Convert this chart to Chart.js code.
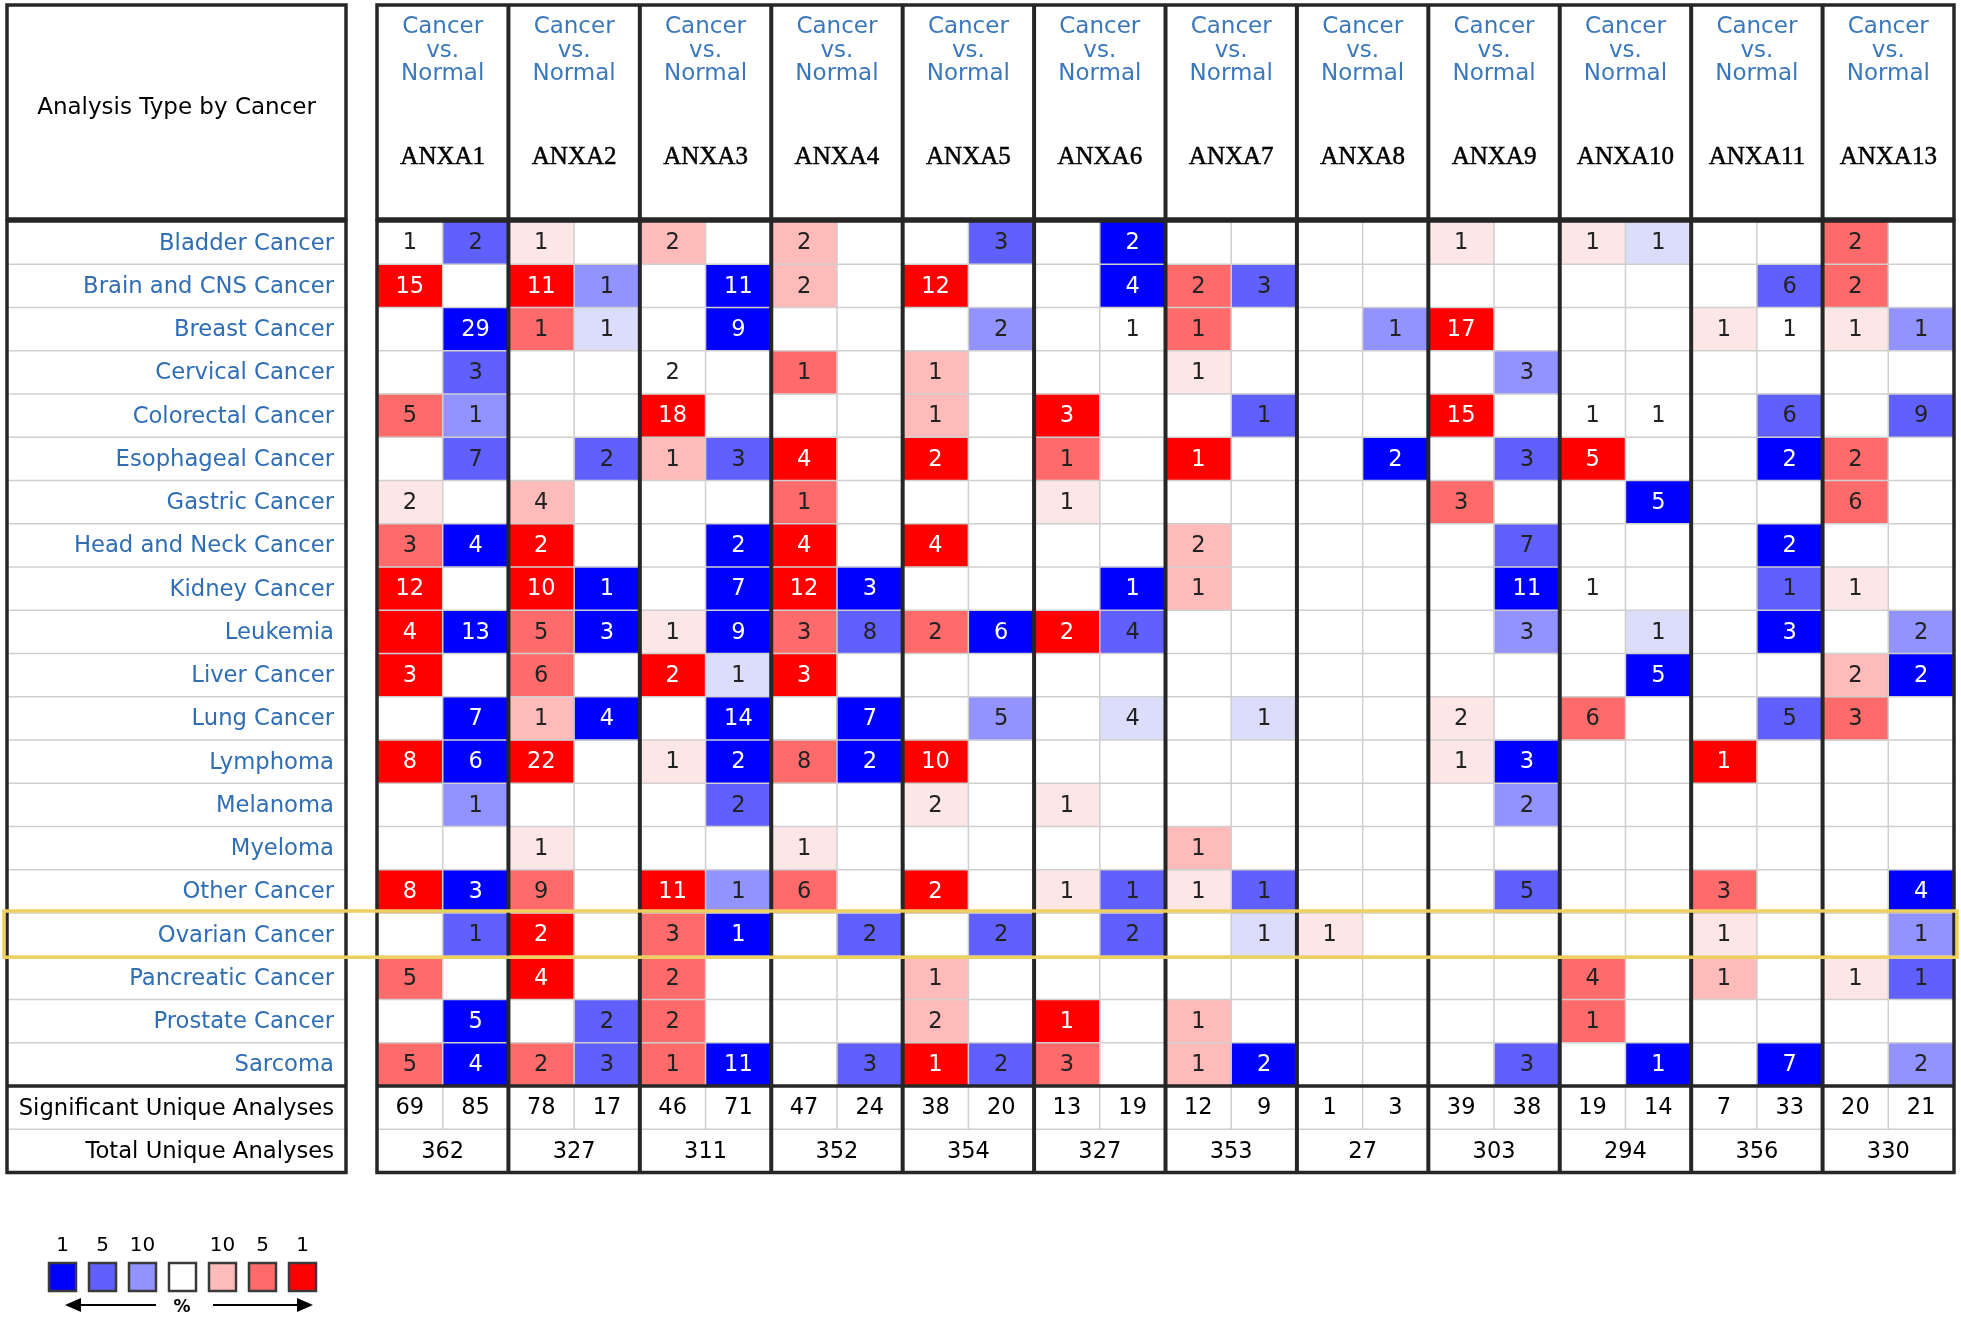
<!DOCTYPE html>
<html><head><meta charset="utf-8">
<script src="https://cdn.jsdelivr.net/npm/chart.js@4/dist/chart.umd.min.js"></script>
<style>html,body{margin:0;padding:0;background:#fff;}canvas{display:block;}</style>
</head><body>
<canvas id="c" width="1961" height="1319"></canvas>
<script>
const cancers = ['Bladder Cancer','Brain and CNS Cancer','Breast Cancer','Cervical Cancer','Colorectal Cancer','Esophageal Cancer','Gastric Cancer','Head and Neck Cancer','Kidney Cancer','Leukemia','Liver Cancer','Lung Cancer','Lymphoma','Melanoma','Myeloma','Other Cancer','Ovarian Cancer','Pancreatic Cancer','Prostate Cancer','Sarcoma'];
const genes = ['ANXA1','ANXA2','ANXA3','ANXA4','ANXA5','ANXA6','ANXA7','ANXA8','ANXA9','ANXA10','ANXA11','ANXA13'];
const analysisType = ['Cancer','vs.','Normal'];
const _ = null;
// counts of analyses (over-expression = up, under-expression = down) and colour level (0 white .. 4 top 1%)
const ANXA1_up      = [1,15,_,_,5,_,2,3,12,4,3,_,8,_,_,8,_,5,_,5];
const ANXA1_upLvl   = [0,4,_,_,3,_,1,3,4,4,4,_,4,_,_,4,_,3,_,3];
const ANXA1_down    = [2,_,29,3,1,7,_,4,_,13,_,7,6,1,_,3,1,_,5,4];
const ANXA1_downLvl = [3,_,4,3,2,3,_,4,_,4,_,4,4,2,_,4,3,_,4,4];
const ANXA2_up      = [1,11,1,_,_,_,4,2,10,5,6,1,22,_,1,9,2,4,_,2];
const ANXA2_upLvl   = [1,4,3,_,_,_,2,4,4,3,3,2,4,_,1,3,4,4,_,3];
const ANXA2_down    = [_,1,1,_,_,2,_,_,1,3,_,4,_,_,_,_,_,_,2,3];
const ANXA2_downLvl = [_,2,1,_,_,3,_,_,4,4,_,4,_,_,_,_,_,_,3,3];
const ANXA3_up      = [2,_,_,2,18,1,_,_,_,1,2,_,1,_,_,11,3,2,2,1];
const ANXA3_upLvl   = [2,_,_,0,4,2,_,_,_,1,4,_,1,_,_,4,3,3,3,3];
const ANXA3_down    = [_,11,9,_,_,3,_,2,7,9,1,14,2,2,_,1,1,_,_,11];
const ANXA3_downLvl = [_,4,4,_,_,3,_,4,4,4,1,4,4,3,_,2,4,_,_,4];
const ANXA4_up      = [2,2,_,1,_,4,1,4,12,3,3,_,8,_,1,6,_,_,_,_];
const ANXA4_upLvl   = [2,2,_,3,_,4,3,4,4,3,4,_,3,_,1,3,_,_,_,_];
const ANXA4_down    = [_,_,_,_,_,_,_,_,3,8,_,7,2,_,_,_,2,_,_,3];
const ANXA4_downLvl = [_,_,_,_,_,_,_,_,4,3,_,4,4,_,_,_,3,_,_,3];
const ANXA5_up      = [_,12,_,1,1,2,_,4,_,2,_,_,10,2,_,2,_,1,2,1];
const ANXA5_upLvl   = [_,4,_,2,2,4,_,4,_,3,_,_,4,1,_,4,_,2,2,4];
const ANXA5_down    = [3,_,2,_,_,_,_,_,_,6,_,5,_,_,_,_,2,_,_,2];
const ANXA5_downLvl = [3,_,2,_,_,_,_,_,_,4,_,2,_,_,_,_,3,_,_,3];
const ANXA6_up      = [_,_,_,_,3,1,1,_,_,2,_,_,_,1,_,1,_,_,1,3];
const ANXA6_upLvl   = [_,_,_,_,4,3,1,_,_,4,_,_,_,1,_,1,_,_,4,3];
const ANXA6_down    = [2,4,1,_,_,_,_,_,1,4,_,4,_,_,_,1,2,_,_,_];
const ANXA6_downLvl = [4,4,0,_,_,_,_,_,4,3,_,1,_,_,_,3,3,_,_,_];
const ANXA7_up      = [_,2,1,1,_,1,_,2,1,_,_,_,_,_,1,1,_,_,1,1];
const ANXA7_upLvl   = [_,3,3,1,_,4,_,2,2,_,_,_,_,_,2,1,_,_,2,2];
const ANXA7_down    = [_,3,_,_,1,_,_,_,_,_,_,1,_,_,_,1,1,_,_,2];
const ANXA7_downLvl = [_,3,_,_,3,_,_,_,_,_,_,1,_,_,_,3,1,_,_,4];
const ANXA8_up      = [_,_,_,_,_,_,_,_,_,_,_,_,_,_,_,_,1,_,_,_];
const ANXA8_upLvl   = [_,_,_,_,_,_,_,_,_,_,_,_,_,_,_,_,1,_,_,_];
const ANXA8_down    = [_,_,1,_,_,2,_,_,_,_,_,_,_,_,_,_,_,_,_,_];
const ANXA8_downLvl = [_,_,2,_,_,4,_,_,_,_,_,_,_,_,_,_,_,_,_,_];
const ANXA9_up      = [1,_,17,_,15,_,3,_,_,_,_,2,1,_,_,_,_,_,_,_];
const ANXA9_upLvl   = [1,_,4,_,4,_,3,_,_,_,_,1,1,_,_,_,_,_,_,_];
const ANXA9_down    = [_,_,_,3,_,3,_,7,11,3,_,_,3,2,_,5,_,_,_,3];
const ANXA9_downLvl = [_,_,_,2,_,3,_,3,4,2,_,_,4,2,_,3,_,_,_,3];
const ANXA10_up      = [1,_,_,_,1,5,_,_,1,_,_,6,_,_,_,_,_,4,1,_];
const ANXA10_upLvl   = [1,_,_,_,0,4,_,_,0,_,_,3,_,_,_,_,_,3,3,_];
const ANXA10_down    = [1,_,_,_,1,_,5,_,_,1,5,_,_,_,_,_,_,_,_,1];
const ANXA10_downLvl = [1,_,_,_,0,_,4,_,_,1,4,_,_,_,_,_,_,_,_,4];
const ANXA11_up      = [_,_,1,_,_,_,_,_,_,_,_,_,1,_,_,3,1,1,_,_];
const ANXA11_upLvl   = [_,_,1,_,_,_,_,_,_,_,_,_,4,_,_,3,1,2,_,_];
const ANXA11_down    = [_,6,1,_,6,2,_,2,1,3,_,5,_,_,_,_,_,_,_,7];
const ANXA11_downLvl = [_,3,0,_,3,4,_,4,3,4,_,3,_,_,_,_,_,_,_,4];
const ANXA13_up      = [2,2,1,_,_,2,6,_,1,_,2,3,_,_,_,_,_,1,_,_];
const ANXA13_upLvl   = [3,3,1,_,_,3,3,_,1,_,2,3,_,_,_,_,_,1,_,_];
const ANXA13_down    = [_,_,1,_,9,_,_,_,_,2,2,_,_,_,_,4,1,1,_,2];
const ANXA13_downLvl = [_,_,2,_,3,_,_,_,_,2,4,_,_,_,_,4,2,3,_,2];
const sigUp   = [69,78,46,47,38,13,12,1,39,19,7,20];
const sigDown = [85,17,71,24,20,19,9,3,38,14,33,21];
const totalAnalyses = [362,327,311,352,354,327,353,27,303,294,356,330];
const legendLabels = ['1','5','10','','10','5','1'];
const highlightRow = 'Ovarian Cancer';

const RED  = ['#ffffff','#fde6e6','#ffbaba','#ff6b6b','#ff0000'];
const BLUE = ['#ffffff','#dcdcfb','#9393ff','#6060ff','#0000ff'];
const legendColors = [BLUE[4],BLUE[3],BLUE[2],'#ffffff',RED[2],RED[3],RED[4]];

const upCounts  = [ANXA1_up,ANXA2_up,ANXA3_up,ANXA4_up,ANXA5_up,ANXA6_up,ANXA7_up,ANXA8_up,ANXA9_up,ANXA10_up,ANXA11_up,ANXA13_up];
const upLvls    = [ANXA1_upLvl,ANXA2_upLvl,ANXA3_upLvl,ANXA4_upLvl,ANXA5_upLvl,ANXA6_upLvl,ANXA7_upLvl,ANXA8_upLvl,ANXA9_upLvl,ANXA10_upLvl,ANXA11_upLvl,ANXA13_upLvl];
const downCounts= [ANXA1_down,ANXA2_down,ANXA3_down,ANXA4_down,ANXA5_down,ANXA6_down,ANXA7_down,ANXA8_down,ANXA9_down,ANXA10_down,ANXA11_down,ANXA13_down];
const downLvls  = [ANXA1_downLvl,ANXA2_downLvl,ANXA3_downLvl,ANXA4_downLvl,ANXA5_downLvl,ANXA6_downLvl,ANXA7_downLvl,ANXA8_downLvl,ANXA9_downLvl,ANXA10_downLvl,ANXA11_downLvl,ANXA13_downLvl];

const columns = [];
genes.forEach((g,i)=>{
  columns.push({key:g+' up', counts:upCounts[i], lvls:upLvls[i], pal:RED});
  columns.push({key:g+' down', counts:downCounts[i], lvls:downLvls[i], pal:BLUE});
});
const sigCols = [];
genes.forEach((g,i)=>{ sigCols.push(sigUp[i]); sigCols.push(sigDown[i]); });

const datasets = cancers.map((name, r) => ({
  label: name,
  data: columns.map(col => col.counts[r] == null ? null : [r, r+1]),
  counts: columns.map(col => col.counts[r]),
  lvls: columns.map(col => col.lvls[r]),
  backgroundColor: columns.map(col => col.counts[r] == null ? 'rgba(0,0,0,0)' : col.pal[col.lvls[r]]),
  borderWidth: 0,
  grouped: false,
  barPercentage: 1,
  categoryPercentage: 1
}));

const SANS = '"DejaVu Sans", Verdana, sans-serif';
const SERIF = '"Liberation Serif", "Times New Roman", serif';

const tablePlugin = {
  id: 'oncomineTable',
  afterDatasetsDraw(chart) {
    const {ctx, chartArea: ca, scales: {x, y}} = chart;
    const nR = cancers.length, nC = columns.length;
    const colW = x.getPixelForValue(1) - x.getPixelForValue(0);
    const colEdge = c => x.getPixelForValue(c) - colW/2;
    const rowEdge = r => y.getPixelForValue(r);
    const rowMid = r => (rowEdge(r) + rowEdge(r+1))/2;
    const headTop = 5, headBot = ca.top - 2;
    const footBot = rowEdge(nR + 2);
    const Lx0 = 7, Lx1 = ca.left - 31;
    const labelX = Lx1 - 12;
    ctx.save();
    // light grid lines
    ctx.strokeStyle = '#cfcfcf'; ctx.lineWidth = 1.5;
    ctx.beginPath();
    for (let r = 1; r <= nR + 1; r++) {
      if (r === nR) continue;
      const yy = rowEdge(r);
      ctx.moveTo(Lx0, yy); ctx.lineTo(Lx1, yy);
      ctx.moveTo(ca.left, yy); ctx.lineTo(ca.right, yy);
    }
    for (let c = 1; c < nC; c += 2) {
      const xx = colEdge(c);
      ctx.moveTo(xx, ca.top); ctx.lineTo(xx, rowEdge(nR + 1));
    }
    ctx.stroke();
    // cell numbers
    ctx.textAlign = 'center'; ctx.textBaseline = 'middle';
    ctx.font = '22.5px ' + SANS;
    chart.data.datasets.forEach((ds, di) => {
      const meta = chart.getDatasetMeta(di);
      meta.data.forEach((el, j) => {
        if (ds.counts[j] == null) return;
        ctx.fillStyle = ds.lvls[j] === 4 ? '#ffffff' : '#222222';
        ctx.fillText(String(ds.counts[j]), el.x, (el.y + el.base)/2 + 1);
      });
    });
    // thick borders
    ctx.strokeStyle = '#262626'; ctx.lineWidth = 3.5;
    ctx.strokeRect(Lx0, headTop, Lx1 - Lx0, headBot - headTop);
    ctx.strokeRect(Lx0, ca.top, Lx1 - Lx0, footBot - ca.top);
    ctx.strokeRect(ca.left, headTop, ca.right - ca.left, headBot - headTop);
    ctx.strokeRect(ca.left, ca.top, ca.right - ca.left, footBot - ca.top);
    ctx.beginPath();
    ctx.moveTo(Lx0, rowEdge(nR)); ctx.lineTo(Lx1, rowEdge(nR));
    ctx.moveTo(ca.left, rowEdge(nR)); ctx.lineTo(ca.right, rowEdge(nR));
    ctx.stroke();
    ctx.lineWidth = 4;
    ctx.beginPath();
    for (let g = 1; g < genes.length; g++) {
      const xx = colEdge(2*g);
      ctx.moveTo(xx, headTop); ctx.lineTo(xx, headBot);
      ctx.moveTo(xx, ca.top); ctx.lineTo(xx, footBot);
    }
    ctx.stroke();
    // header
    ctx.fillStyle = '#000'; ctx.font = '23px ' + SANS;
    ctx.fillText('Analysis Type by Cancer', (Lx0 + Lx1)/2, 108);
    genes.forEach((g, i) => {
      const cx = (x.getPixelForValue(2*i) + x.getPixelForValue(2*i+1))/2;
      ctx.fillStyle = '#3b78bb'; ctx.font = '23px ' + SANS;
      ctx.fillText(analysisType[0], cx, 27);
      ctx.fillText(analysisType[1], cx, 51);
      ctx.fillText(analysisType[2], cx, 74);
      ctx.fillStyle = '#000'; ctx.strokeStyle = '#000'; ctx.lineWidth = 0.5;
      ctx.font = '25px ' + SERIF;
      ctx.fillText(g, cx, 157);
      ctx.strokeText(g, cx, 157);
    });
    // row labels
    ctx.textAlign = 'right';
    ctx.font = '22.7px ' + SANS; ctx.fillStyle = '#2f6db4';
    cancers.forEach((name, r) => ctx.fillText(name, labelX, rowMid(r) + 1));
    ctx.fillStyle = '#000';
    ctx.fillText('Significant Unique Analyses', labelX, rowMid(nR) + 1);
    ctx.fillText('Total Unique Analyses', labelX, rowMid(nR + 1) + 1);
    // footer numbers
    ctx.textAlign = 'center';
    ctx.font = '22.5px ' + SANS;
    sigCols.forEach((v, c) => ctx.fillText(String(v), x.getPixelForValue(c), rowMid(nR) + 1));
    totalAnalyses.forEach((v, i) => {
      const cx = (x.getPixelForValue(2*i) + x.getPixelForValue(2*i+1))/2;
      ctx.fillText(String(v), cx, rowMid(nR + 1) + 1);
    });
    // highlight
    const hr = cancers.indexOf(highlightRow);
    ctx.strokeStyle = '#eed060'; ctx.lineWidth = 3.5;
    ctx.strokeRect(4, rowEdge(hr) - 2, chart.width - 8, rowEdge(hr + 1) - rowEdge(hr) + 3);
    // legend
    const lx = 49, ly = 1263, step = 40, sw = 27, sh = 28;
    ctx.font = '20px ' + SANS; ctx.fillStyle = '#000';
    legendColors.forEach((col, i) => {
      ctx.fillStyle = col;
      ctx.fillRect(lx + i*step, ly, sw, sh);
      ctx.strokeStyle = '#3a3a3a'; ctx.lineWidth = 2.5;
      ctx.strokeRect(lx + i*step, ly, sw, sh);
      ctx.fillStyle = '#000';
      ctx.fillText(legendLabels[i], lx + i*step + sw/2, 1246);
    });
    ctx.strokeStyle = '#000'; ctx.lineWidth = 2;
    ctx.beginPath();
    ctx.moveTo(156, 1305); ctx.lineTo(72, 1305);
    ctx.moveTo(213, 1305); ctx.lineTo(306, 1305);
    ctx.stroke();
    ctx.fillStyle = '#000';
    ctx.beginPath(); ctx.moveTo(65, 1305); ctx.lineTo(81, 1298); ctx.lineTo(81, 1312); ctx.closePath(); ctx.fill();
    ctx.beginPath(); ctx.moveTo(313, 1305); ctx.lineTo(297, 1298); ctx.lineTo(297, 1312); ctx.closePath(); ctx.fill();
    ctx.font = 'bold 17px ' + SANS;
    ctx.fillText('%', 182, 1308);
    ctx.restore();
  }
};

new Chart(document.getElementById('c'), {
  type: 'bar',
  data: { labels: columns.map(c => c.key), datasets },
  options: {
    responsive: false, animation: false, devicePixelRatio: 1,
    layout: { padding: { left: 377, right: 7, top: 221, bottom: 233 } },
    plugins: { legend: { display: false }, tooltip: { enabled: false } },
    scales: {
      x: { type: 'category', display: false, offset: true },
      y: { type: 'linear', display: false, min: 0, max: cancers.length, reverse: true }
    }
  },
  plugins: [tablePlugin]
});
</script>
</body></html>
